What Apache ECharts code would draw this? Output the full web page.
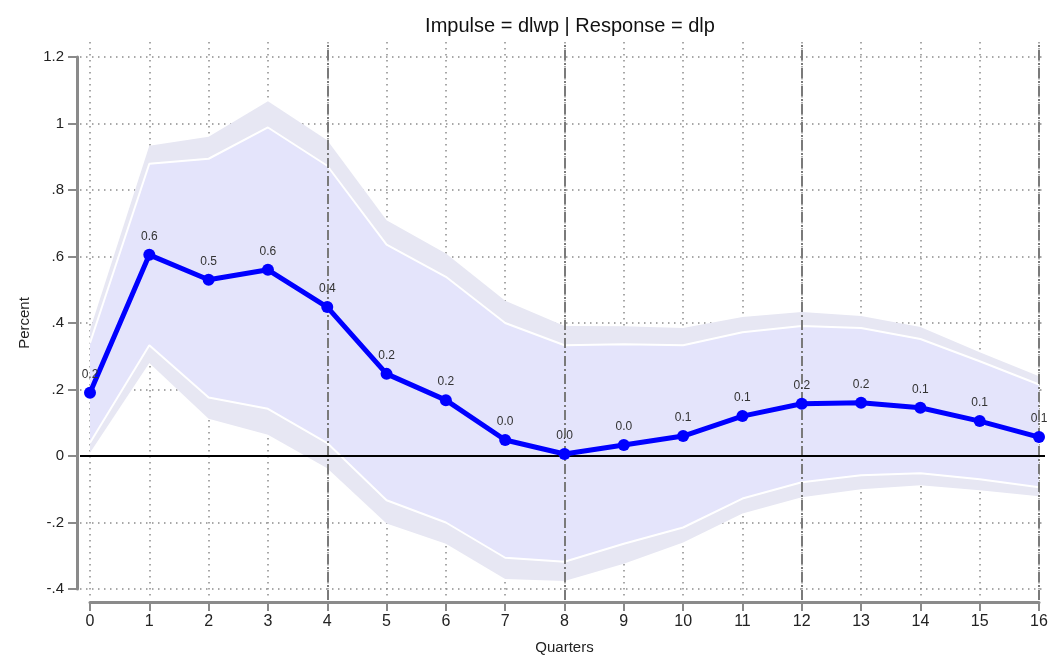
<!DOCTYPE html>
<html>
<head>
<meta charset="utf-8">
<script src="https://cdn.jsdelivr.net/npm/echarts@6/dist/echarts.min.js"></script>
<style>
html,body{margin:0;padding:0;background:#fff;}
#c{width:1048px;height:656px;}
</style>
</head>
<body>
<div id="c"></div>
<script>
const quarters = [0,1,2,3,4,5,6,7,8,9,10,11,12,13,14,15,16];
const irf = [0.19, 0.605, 0.53, 0.56, 0.448, 0.247, 0.168, 0.048, 0.006, 0.033, 0.06, 0.12, 0.157, 0.16, 0.145, 0.105, 0.057];
const outerUpper = [0.38, 0.933, 0.96, 1.067, 0.95, 0.709, 0.609, 0.467, 0.391, 0.39, 0.385, 0.418, 0.433, 0.421, 0.388, 0.312, 0.24];
const outerLower = [0.01, 0.28, 0.112, 0.064, -0.037, -0.203, -0.264, -0.37, -0.376, -0.324, -0.26, -0.173, -0.124, -0.1, -0.088, -0.103, -0.121];
const innerUpper = [0.34, 0.879, 0.894, 0.988, 0.873, 0.636, 0.539, 0.4, 0.333, 0.336, 0.333, 0.372, 0.391, 0.385, 0.352, 0.285, 0.215];
const innerLower = [0.04, 0.333, 0.176, 0.142, 0.039, -0.133, -0.2, -0.306, -0.318, -0.264, -0.215, -0.128, -0.079, -0.058, -0.052, -0.07, -0.094];
const xLines = [4, 8, 12, 16];
const titleText = 'Impulse = dlwp | Response = dlp';
const xTitle = 'Quarters';
const yTitle = 'Percent';

const FONT = '"Liberation Sans", Arial, sans-serif';
const AXIS_GRAY = '#8a8a8a';
const DOT = { color: '#8c8c8c', width: 1.5, type: [1.5, 4.5] };

function yFmt(v) {
  let s = (Math.round(v * 10) / 10).toString();
  if (s === '-0') s = '0';
  return s.replace(/^0\./, '.').replace(/^-0\./, '-.');
}

function band(upper, lower, color, z) {
  return {
    type: 'custom', xAxisIndex: 0, yAxisIndex: 0, z: z, silent: true,
    data: quarters.map((q, i) => [q, lower[i], upper[i]]),
    encode: { x: 0, y: [1, 2] },
    renderItem: function (params, api) {
      if (params.dataIndex !== 0) return;
      const pts = [];
      for (let i = 0; i < quarters.length; i++) pts.push(api.coord([quarters[i], upper[i]]));
      for (let i = quarters.length - 1; i >= 0; i--) pts.push(api.coord([quarters[i], lower[i]]));
      return { type: 'polygon', shape: { points: pts }, style: { fill: color } };
    }
  };
}

function edge(vals, z) {
  return {
    type: 'line', xAxisIndex: 0, yAxisIndex: 0, z: z, silent: true,
    data: quarters.map((q, i) => [q, vals[i]]),
    symbol: 'none', lineStyle: { color: '#ffffff', width: 2 }
  };
}

function g(o) { return Object.assign({ outerBoundsMode: 'none', containLabel: false }, o); }

const chart = echarts.init(document.getElementById('c'), null, { renderer: 'canvas' });
chart.setOption({
  animation: false,
  backgroundColor: '#ffffff',
  title: {
    text: titleText, left: 565, top: 11, textAlign: 'center',
    textStyle: { fontFamily: FONT, fontSize: 20, fontWeight: 'normal', color: '#111' }
  },
  grid: [
    g({ left: 90, right: 9, top: 57, bottom: 67 }),   // data
    g({ left: 90, right: 9, top: 42, bottom: 56 }),   // vertical grid + xlines
    g({ left: 80, right: 3, top: 57, bottom: 67 }),   // horizontal grid + zero line
    g({ left: 90, right: 9, top: 57, bottom: 54 }),   // x axis display
    g({ left: 77, right: 9, top: 57, bottom: 67 })    // y axis display
  ],
  xAxis: [
    { gridIndex: 0, type: 'value', min: 0, max: 16, show: false },
    {
      gridIndex: 1, type: 'value', min: 0, max: 16, interval: 1,
      axisLine: { show: false }, axisTick: { show: false }, axisLabel: { show: false },
      splitLine: { show: true, lineStyle: DOT }
    },
    { gridIndex: 2, type: 'value', min: 0, max: 1, show: false },
    {
      gridIndex: 3, type: 'value', min: 0, max: 16, interval: 1, position: 'bottom',
      axisLine: { show: true, onZero: false, lineStyle: { color: AXIS_GRAY, width: 3 } },
      axisTick: { show: true, inside: false, length: 9, lineStyle: { color: AXIS_GRAY, width: 2 } },
      axisLabel: { fontFamily: FONT, fontSize: 16, color: '#222', margin: 12 },
      splitLine: { show: false },
      name: xTitle, nameLocation: 'middle', nameGap: 38,
      nameTextStyle: { fontFamily: FONT, fontSize: 15, color: '#222' }
    },
    { gridIndex: 4, type: 'value', min: 0, max: 1, show: false }
  ],
  yAxis: [
    { gridIndex: 0, type: 'value', min: -0.4, max: 1.2, show: false },
    { gridIndex: 1, type: 'value', min: 0, max: 1, show: false },
    {
      gridIndex: 2, type: 'value', min: -0.4, max: 1.2, interval: 0.2,
      axisLine: { show: false }, axisTick: { show: false }, axisLabel: { show: false },
      splitLine: { show: true, lineStyle: DOT }
    },
    { gridIndex: 3, type: 'value', min: 0, max: 1, show: false },
    {
      gridIndex: 4, type: 'value', min: -0.4, max: 1.2, interval: 0.2, position: 'left',
      axisLine: { show: true, onZero: false, lineStyle: { color: AXIS_GRAY, width: 3 } },
      axisTick: { show: true, inside: false, length: 9, lineStyle: { color: AXIS_GRAY, width: 2 } },
      axisLabel: { fontFamily: FONT, fontSize: 15, color: '#222', margin: 13, formatter: yFmt },
      splitLine: { show: false },
      name: yTitle, nameLocation: 'middle', nameGap: 44, nameRotate: 90,
      nameTextStyle: { fontFamily: FONT, fontSize: 15, color: '#222' }
    }
  ],
  series: [
    {
      type: 'line', xAxisIndex: 1, yAxisIndex: 1, z: 1, silent: true,
      data: [[0, 0]], symbol: 'none', lineStyle: { opacity: 0 },
      markLine: {
        silent: true, symbol: 'none', label: { show: false },
        lineStyle: { color: '#7a7a7a', width: 2, type: [10, 3, 2, 3] },
        data: xLines.map(v => ({ xAxis: v }))
      }
    },
    band(outerUpper, outerLower, '#e7e7f3', 2),
    band(innerUpper, innerLower, '#e4e4fb', 3),
    edge(innerUpper, 3),
    edge(innerLower, 3),
    {
      type: 'line', xAxisIndex: 2, yAxisIndex: 2, z: 4, silent: true,
      data: [[0, 0]], symbol: 'none', lineStyle: { opacity: 0 },
      markLine: {
        silent: true, symbol: 'none', label: { show: false },
        lineStyle: { color: '#000000', width: 2, type: 'solid' },
        data: [{ yAxis: 0 }]
      }
    },
    {
      type: 'line', xAxisIndex: 0, yAxisIndex: 0, z: 5,
      data: quarters.map((q, i) => [q, irf[i]]),
      symbol: 'circle', symbolSize: 12,
      itemStyle: { color: '#0000ff' },
      lineStyle: { color: '#0000ff', width: 5 },
      label: {
        show: true, position: 'top', distance: 6,
        fontFamily: FONT, fontSize: 12, color: '#333',
        formatter: p => p.value[1].toFixed(1)
      }
    }
  ]
});
</script>
</body>
</html>
